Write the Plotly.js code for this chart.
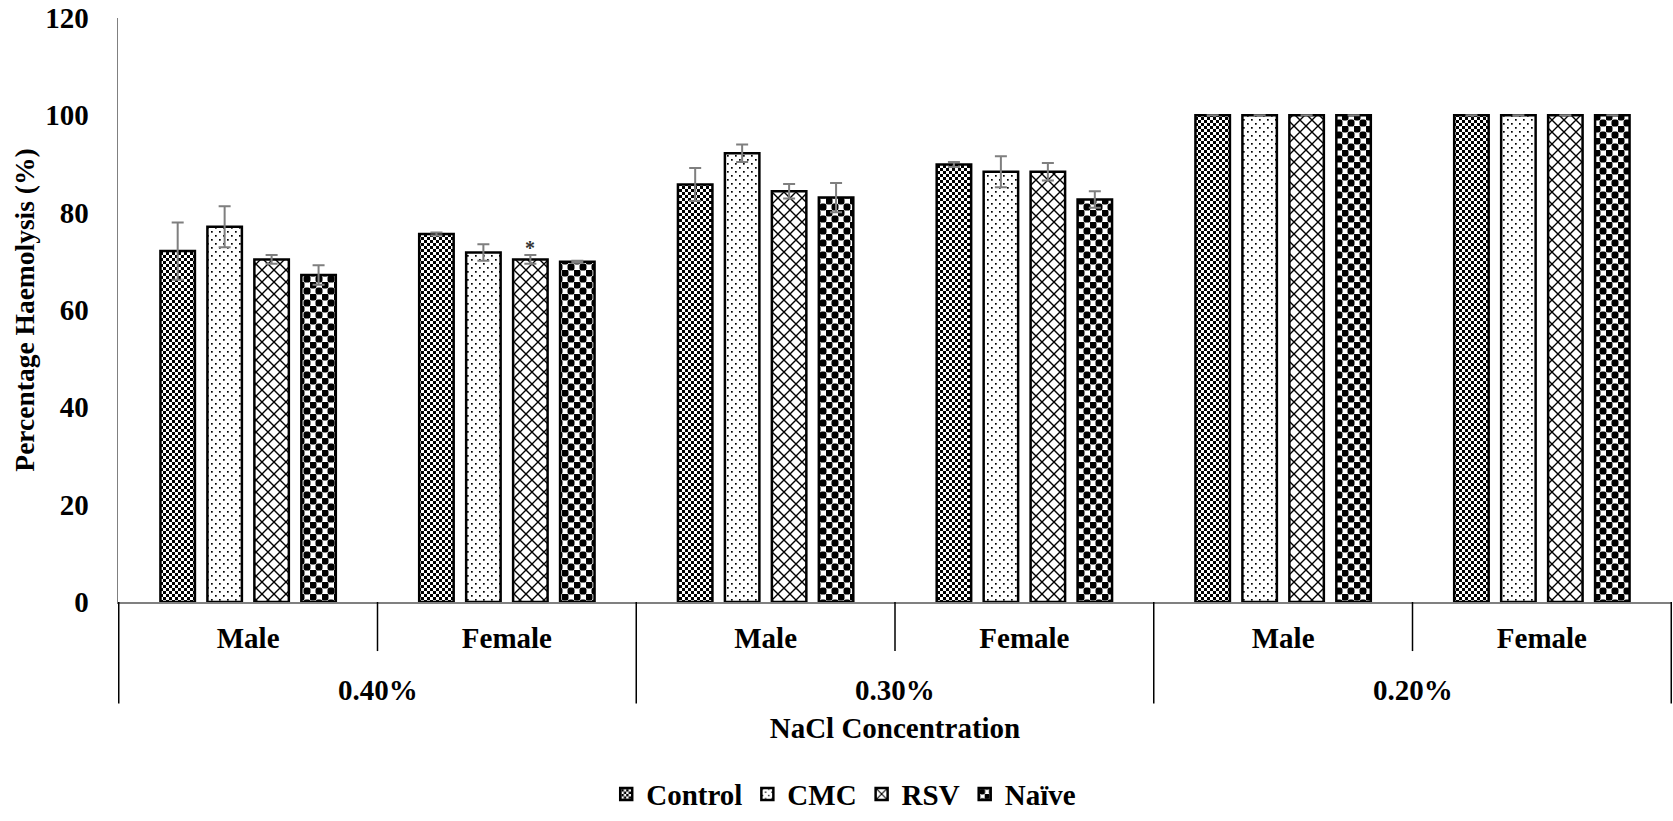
<!DOCTYPE html>
<html>
<head>
<meta charset="utf-8">
<script src="https://cdn.plot.ly/plotly-3.0.1.min.js"></script>
<style>html,body{margin:0;padding:0;background:#fff;}#chart{width:1673px;height:821px;}</style>
</head>
<body>
<div id="chart"></div>
<script>
// ---- data ----
const concentration = ['0.40%', '0.40%', '0.30%', '0.30%', '0.20%', '0.20%'];
const sex = ['Male', 'Female', 'Male', 'Female', 'Male', 'Female'];
const seriesNames = ['Control', 'CMC', 'RSV', 'Naïve'];
const controlVals = [72.1, 75.6, 85.8, 89.9, 100, 100];
const controlErr  = [5.9, 0.3, 3.4, 0.5, null, null];
const cmcVals     = [77.1, 71.8, 92.2, 88.4, 100, 100];
const cmcErr      = [4.2, 1.7, 1.8, 3.2, null, null];
const rsvVals     = [70.4, 70.4, 84.4, 88.4, 100, 100];
const rsvErr      = [0.9, 0.9, 1.5, 1.8, null, null];
const naiveVals   = [67.2, 69.9, 83.1, 82.7, 100, 100];
const naiveErr    = [2.0, 0.2, 3.0, 1.7, null, null];
const yTicks = [0, 20, 40, 60, 80, 100, 120];
// significance marker: series index 2 (RSV), category index 1 (0.40% Female)
const starMark = {series: 2, cat: 1, text: '*'};

// ---- style ----
const FONT = 'Liberation Serif';
const BOLD = {family: FONT, size: 29, color: '#000', weight: 'bold'};
const BARGAP = 0.274, GROUPGAP = 0.266;
const uids = ['ctrl', 'cmc', 'rsv', 'naive'];
const fallbackShapes = ['x', '.', 'x', '.'];
const tileSizes = [6, 8, 12, 12];
const vals = [controlVals, cmcVals, rsvVals, naiveVals];
const errs = [controlErr, cmcErr, rsvErr, naiveErr];
const catKeys = concentration.map((c, i) => c + ' ' + sex[i]);

const traces = seriesNames.map((name, i) => ({
  type: 'bar',
  name: name,
  uid: uids[i],
  x: catKeys,
  y: vals[i],
  marker: {
    color: '#ffffff',
    line: {color: '#000000', width: 2.5},
    pattern: {shape: fallbackShapes[i], size: tileSizes[i], solidity: 0.3, fgcolor: '#000', bgcolor: '#fff'}
  },
  error_y: {type: 'data', array: errs[i], visible: true, color: '#7f7f7f', thickness: 2, width: 6},
  hoverinfo: 'skip'
}));

// position of a bar centre within its category (in category units)
const nS = seriesNames.length;
const groupW = 1 - BARGAP;
const slot = groupW / nS;
const starX = starMark.cat - groupW / 2 + slot * (starMark.series + 0.5);
const starY = vals[starMark.series][starMark.cat] + errs[starMark.series][starMark.cat];

// dividers under the category axis
const shapes = [];
const nCat = concentration.length;
for (let k = 0; k <= nCat; k++) {
  const pos = k - 0.5;
  const outer = (k === 0 || k === nCat || concentration[k] !== concentration[k - 1]);
  shapes.push({type: 'line', xref: 'x', yref: 'paper', x0: pos, x1: pos, y0: 0,
    y1: outer ? -0.174 : -0.084, line: {color: '#000', width: 1.5}});
}

// outer-level group labels
const groups = [];
concentration.forEach((c, i) => {
  let g = groups.find(g => g.name === c);
  if (!g) { g = {name: c, idx: []}; groups.push(g); }
  g.idx.push(i);
});
const annotations = groups.map(g => ({
  xref: 'x', yref: 'paper', x: g.idx.reduce((a, b) => a + b, 0) / g.idx.length, y: -0.150,
  yanchor: 'middle', xanchor: 'center', showarrow: false, text: g.name, font: BOLD
}));
annotations.push({xref: 'x', yref: 'y', x: starX, y: starY, text: starMark.text, showarrow: false,
  yanchor: 'middle', yshift: 7, font: {family: FONT, size: 20, color: '#333'}});

const layout = {
  width: 1673, height: 821,
  margin: {l: 118, r: 1, t: 18, b: 217},
  paper_bgcolor: '#fff', plot_bgcolor: '#fff',
  font: BOLD,
  barmode: 'group', bargap: BARGAP, bargroupgap: GROUPGAP,
  showlegend: true,
  legend: {orientation: 'h', x: 0.467, xanchor: 'center', y: -0.329, yanchor: 'middle',
    font: BOLD, traceorder: 'normal', itemclick: false},
  xaxis: {
    type: 'category', automargin: false,
    tickvals: catKeys, ticktext: sex,
    showline: true, linecolor: '#808080', linewidth: 1.5,
    showgrid: false, zeroline: false, ticks: '',
    ticklabelstandoff: 10,
    tickfont: BOLD,
    title: {text: 'NaCl Concentration', standoff: 64, font: BOLD}
  },
  yaxis: {
    range: [0, 120], tickvals: yTicks, ticktext: yTicks.map(String), automargin: false,
    showline: true, linecolor: '#808080', linewidth: 1.5,
    showgrid: false, zeroline: false, ticks: '',
    ticklabelstandoff: 22,
    tickfont: BOLD,
    title: {text: 'Percentage Haemolysis (%)', standoff: 2, font: {family: FONT, size: 27.5, color: '#000', weight: 'bold'}}
  },
  shapes: shapes,
  annotations: annotations
};

const SVGNS = 'http://www.w3.org/2000/svg';
function el(tag, attrs) {
  const e = document.createElementNS(SVGNS, tag);
  for (const k in attrs) e.setAttribute(k, attrs[k]);
  return e;
}
const tiles = {
  ctrl: [['rect', {x: 0, y: 0, width: 6, height: 6, fill: '#fff'}],
         ['rect', {x: 0, y: 0, width: 3, height: 3, fill: '#000'}],
         ['rect', {x: 3, y: 3, width: 3, height: 3, fill: '#000'}]],
  cmc: [['rect', {x: 0, y: 0, width: 8, height: 8, fill: '#fff'}],
        ['rect', {x: 1, y: 1, width: 1.7, height: 1.7, fill: '#000'}],
        ['rect', {x: 5, y: 5, width: 1.7, height: 1.7, fill: '#000'}]],
  rsv: [['rect', {x: 0, y: 0, width: 12, height: 12, fill: '#fff'}],
        ['path', {d: 'M0,0L12,12M12,0L0,12', stroke: '#000', 'stroke-width': 1.4, fill: 'none'}]],
  naive: [['rect', {x: 0, y: 0, width: 12, height: 12, fill: '#fff'}],
          ['rect', {x: -0.5, y: -0.5, width: 7, height: 7, rx: 2.5, fill: '#000'}],
          ['rect', {x: 5.5, y: 5.5, width: 7, height: 7, rx: 2.5, fill: '#000'}],
          ['rect', {x: 5.5, y: -6.5, width: 7, height: 7, rx: 2.5, fill: '#000'}],
          ['rect', {x: -6.5, y: 5.5, width: 7, height: 7, rx: 2.5, fill: '#000'}],
          ['rect', {x: 11.5, y: 11.5, width: 7, height: 7, rx: 2.5, fill: '#000'}],
          ['rect', {x: -6.5, y: -6.5, width: 7, height: 7, rx: 2.5, fill: '#000'}]]
};
function applyTiles() {
  document.querySelectorAll('pattern').forEach(p => {
    const id = p.getAttribute('id') || '';
    uids.forEach((u, i) => {
      if (id.endsWith('-' + u)) {
        const s = tileSizes[i];
        p.setAttribute('width', s); p.setAttribute('height', s);
        p.setAttribute('patternUnits', 'userSpaceOnUse');
        while (p.firstChild) p.removeChild(p.firstChild);
        tiles[u].forEach(t => p.appendChild(el(t[0], t[1])));
      }
    });
  });
}

Plotly.newPlot('chart', traces, layout, {staticPlot: true, displayModeBar: false}).then(applyTiles);
</script>
</body>
</html>
